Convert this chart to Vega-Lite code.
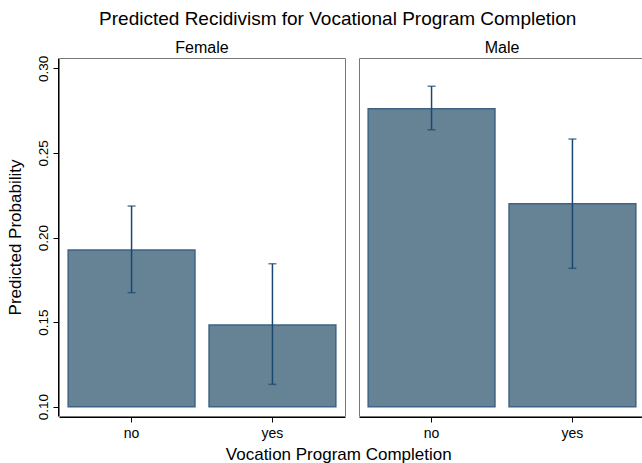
{
  "$schema": "https://vega.github.io/schema/vega-lite/v6.json",
  "background": "white",
  "padding": {"left": 6, "top": 10, "right": 0, "bottom": 0},
  "title": {
    "text": "Predicted Recidivism for Vocational Program Completion",
    "fontSize": 19,
    "fontWeight": "normal",
    "color": "black",
    "anchor": "middle",
    "dx": 12,
    "offset": 11
  },
  "vconcat": [
    {
      "title": {
        "text": "Vocation Program Completion",
        "orient": "bottom",
        "fontSize": 17,
        "fontWeight": "normal",
        "color": "black",
        "anchor": "middle",
        "dx": 13,
        "offset": 7
      },
      "data": {
        "values": [
          {"sex": "Female", "vocation": "no", "prob": 0.1926, "lo": 0.1674, "hi": 0.2186},
          {"sex": "Female", "vocation": "yes", "prob": 0.1483, "lo": 0.1132, "hi": 0.1845},
          {"sex": "Male", "vocation": "no", "prob": 0.2761, "lo": 0.2637, "hi": 0.2894},
          {"sex": "Male", "vocation": "yes", "prob": 0.2200, "lo": 0.1818, "hi": 0.2582}
        ]
      },
      "facet": {
        "column": {
          "field": "sex",
          "type": "nominal",
          "title": null,
          "header": {"labelFontSize": 16, "labelColor": "black", "labelPadding": 1}
        }
      },
      "spacing": 12,
      "spec": {
        "width": 286,
        "height": 358,
        "encoding": {
          "x": {
            "field": "vocation",
            "type": "nominal",
            "title": null,
            "scale": {"paddingInner": 0.1, "paddingOuter": 0.065},
            "axis": {
              "labelAngle": 0,
              "labelFontSize": 14,
              "labelColor": "black",
              "labelPadding": 4,
              "tickSize": 5,
              "tickColor": "black",
              "domainColor": "black"
            }
          }
        },
        "layer": [
          {
            "mark": {"type": "bar", "fill": "#668396", "stroke": "#3f6384", "strokeWidth": 1.5},
            "encoding": {
              "y": {
                "field": "prob",
                "type": "quantitative",
                "title": "Predicted Probability",
                "scale": {"domain": [0.0945, 0.3061], "nice": false, "zero": false},
                "axis": {
                  "values": [0.1, 0.15, 0.2, 0.25, 0.3],
                  "format": ".2f",
                  "grid": false,
                  "labelAngle": -90,
                  "labelFontSize": 13.5,
                  "labelColor": "black",
                  "labelPadding": 3,
                  "tickSize": 5,
                  "tickColor": "black",
                  "domainColor": "black",
                  "titleFontSize": 17,
                  "titleFontWeight": "normal",
                  "titleColor": "black",
                  "titlePadding": 12
                }
              },
              "y2": {"datum": 0.1}
            }
          },
          {
            "mark": {"type": "rule", "color": "#1a476f", "strokeWidth": 1.5},
            "encoding": {
              "y": {"field": "lo", "type": "quantitative"},
              "y2": {"field": "hi"}
            }
          },
          {
            "mark": {"type": "tick", "color": "#1a476f", "size": 8, "thickness": 1.5},
            "encoding": {"y": {"field": "lo", "type": "quantitative"}}
          },
          {
            "mark": {"type": "tick", "color": "#1a476f", "size": 8, "thickness": 1.5},
            "encoding": {"y": {"field": "hi", "type": "quantitative"}}
          }
        ]
      }
    }
  ],
  "config": {
    "font": "Liberation Sans",
    "view": {"stroke": "#777777", "strokeWidth": 1}
  }
}
